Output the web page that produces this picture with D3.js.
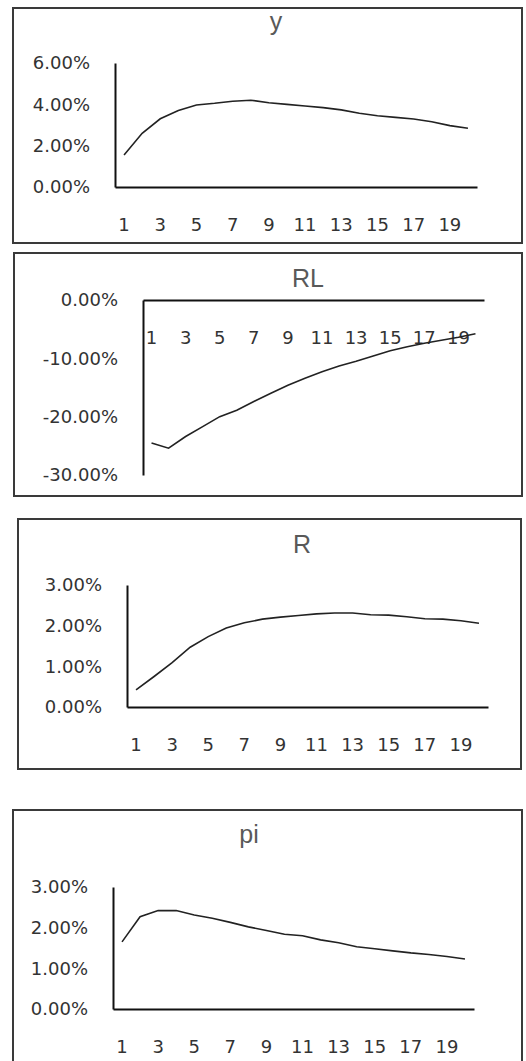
<!DOCTYPE html>
<html>
<head>
<meta charset="utf-8">
<script src="https://cdn.jsdelivr.net/npm/d3@7"></script>
<style>
  body { margin: 0; background: #fff; }
  svg { display: block; }
  .tick text { font-family: "DejaVu Sans", sans-serif; font-size: 18px; fill: #333; }
</style>
</head>
<body>
<div id="chart"></div>
<script>
//periods on the x axis and the odd ones that get a label
var periods = [1, 2, 3, 4, 5, 6, 7, 8, 9, 10, 11, 12, 13, 14, 15, 16, 17, 18, 19, 20];
var periodLabels = [1, 3, 5, 7, 9, 11, 13, 15, 17, 19];

//impulse responses in percent
var yValues = [1.55, 2.6, 3.3, 3.7, 3.97, 4.05, 4.15, 4.2, 4.08, 4.0, 3.92, 3.84, 3.73, 3.57, 3.45, 3.37, 3.29, 3.16, 2.97, 2.84];
var rlValues = [-24.5, -25.4, -23.4, -21.7, -20.0, -18.9, -17.4, -16.0, -14.6, -13.4, -12.3, -11.3, -10.5, -9.6, -8.7, -8.0, -7.4, -6.9, -6.4, -5.8];
var rValues = [0.42, 0.75, 1.09, 1.47, 1.73, 1.94, 2.07, 2.16, 2.21, 2.25, 2.29, 2.31, 2.31, 2.27, 2.26, 2.22, 2.17, 2.16, 2.12, 2.06];
var piValues = [1.65, 2.27, 2.42, 2.42, 2.31, 2.23, 2.13, 2.02, 1.93, 1.84, 1.80, 1.70, 1.63, 1.53, 1.48, 1.43, 1.38, 1.34, 1.29, 1.23];

//y axis ticks for each panel
var yTicksY = [0, 2, 4, 6];
var yTicksRL = [0, -10, -20, -30];
var yTicksR = [0, 1, 2, 3];
var yTicksPi = [0, 1, 2, 3];

var w = 526;
var h = 1061;

var svg = d3.select("#chart").append("svg").attr("width", w).attr("height", h);

//one entry per panel: frame box, plot box and title spot
var panels = [
  { title: "y", values: yValues, ticks: yTicksY, domain: [0, 6],
    frame: [13, 8, 522, 243], plot: [115, 477, 63, 187], titleX: 276, titleY: 30 },
  { title: "RL", values: rlValues, ticks: yTicksRL, domain: [-30, 0],
    frame: [14, 253, 522, 496], plot: [143, 484, 300, 475], titleX: 308, titleY: 287 },
  { title: "R", values: rValues, ticks: yTicksR, domain: [0, 3],
    frame: [18, 519, 521, 769], plot: [127, 488, 585, 707], titleX: 302, titleY: 553 },
  { title: "pi", values: piValues, ticks: yTicksPi, domain: [0, 3],
    frame: [13, 810, 522, 1066], plot: [113, 474, 887, 1009], titleX: 249, titleY: 843 }
];

panels.forEach(function (p) {
  var g = svg.append("g");

  //outer frame
  g.append("rect")
    .attr("x", p.frame[0])
    .attr("y", p.frame[1])
    .attr("width", p.frame[2] - p.frame[0])
    .attr("height", p.frame[3] - p.frame[1])
    .attr("fill", "none")
    .attr("stroke", "#3a3a3a")
    .attr("stroke-width", 2);

  var xScale = d3.scaleBand().domain(periods).range([p.plot[0], p.plot[1]]);
  var yScale = d3.scaleLinear().domain(p.domain).range([p.plot[3], p.plot[2]]);

  //x axis sits on the zero line, labels a fixed distance below it
  var xAxis = d3.axisBottom(xScale).tickValues(periodLabels).tickSize(0).tickSizeOuter(0);
  var gx = g.append("g")
    .attr("transform", "translate(0," + yScale(0) + ")")
    .call(xAxis);
  gx.select(".domain").attr("stroke", "#111").attr("stroke-width", 2);
  gx.selectAll(".tick text").attr("y", 38).attr("dy", "0.35em");

  var yAxis = d3.axisLeft(yScale)
    .tickValues(p.ticks)
    .tickSize(0)
    .tickSizeOuter(0)
    .tickPadding(25)
    .tickFormat(function (d) { return d.toFixed(2) + "%"; });
  var gy = g.append("g")
    .attr("transform", "translate(" + p.plot[0] + ",0)")
    .call(yAxis);
  gy.select(".domain").attr("stroke", "#111").attr("stroke-width", 2);

  //response line
  var line = d3.line()
    .x(function (d, i) { return xScale(periods[i]) + xScale.bandwidth() / 2; })
    .y(function (d) { return yScale(d); });
  g.append("path")
    .datum(p.values)
    .attr("d", line)
    .attr("fill", "none")
    .attr("stroke", "#222")
    .attr("stroke-width", 1.6);

  //title
  g.append("text")
    .attr("x", p.titleX)
    .attr("y", p.titleY)
    .attr("text-anchor", "middle")
    .style("font-family", "'Liberation Sans', Arial, sans-serif")
    .style("font-size", "25px")
    .style("fill", "#595959")
    .text(p.title);
});
</script>
</body>
</html>
